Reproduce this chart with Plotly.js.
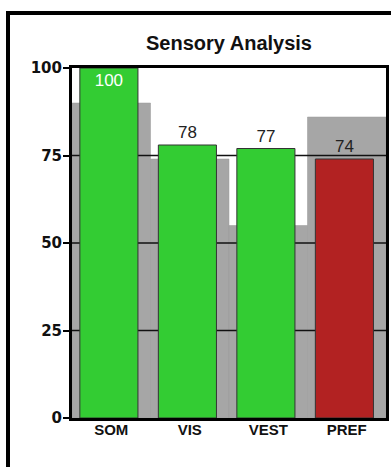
<!DOCTYPE html>
<html>
<head>
<meta charset="utf-8">
<script src="https://cdn.plot.ly/plotly-3.0.1.min.js"></script>
<style>
  html, body { margin: 0; padding: 0; background: #fff; }
  #wrap { position: relative; width: 391px; height: 467px; overflow: hidden; }
  #chart { position: absolute; left: 0; top: 0; width: 391px; height: 467px; }
  #frame {
    position: absolute; left: 6px; top: 11px; width: 400px; height: 470px;
    border-left: 4px solid #000; border-top: 4px solid #000;
    pointer-events: none; box-sizing: border-box;
  }
</style>
</head>
<body>
<div id="wrap">
  <div id="chart"></div>
  <div id="frame"></div>
</div>
<script>
// Sensory profile scores
const categories = ["SOM", "VIS", "VEST", "PREF"];
const scores = [100, 78, 77, 74];
const barColors = ["#33cc33", "#33cc33", "#33cc33", "#b22222"];
// Reference band drawn behind each score
const referenceScores = [90, 74, 55, 86];
// Y axis ticks
const yTicks = [0, 25, 50, 75, 100];
const gridLevels = [25, 50, 75];

const xIdx = categories.map((_, i) => i);
const xMin = -0.5, xMax = categories.length - 0.5;

// grid lines as a trace so they sit above the reference band but under the score bars
const gridX = [], gridY = [];
gridLevels.forEach(v => { gridX.push(xMin, xMax, null); gridY.push(v, v, null); });

const traces = [
  {
    type: "bar", x: xIdx, y: referenceScores, width: 1,
    marker: { color: "#a6a6a6", line: { color: "#999", width: 0.5 } },
    xaxis: "x", yaxis: "y", hoverinfo: "skip"
  },
  {
    type: "scatter", mode: "lines", x: gridX, y: gridY,
    line: { color: "#111", width: 1.5 },
    xaxis: "x", yaxis: "y", hoverinfo: "skip"
  },
  {
    type: "bar", x: xIdx, y: scores, width: 0.74, offset: -0.4,
    marker: { color: barColors, line: { color: "#333", width: 1 } },
    text: scores.map(String),
    textposition: scores.map(v => v >= 100 ? "inside" : "outside"),
    insidetextanchor: "end",
    insidetextfont: { family: "Liberation Sans, Arial, sans-serif", size: 17, color: "#fff" },
    outsidetextfont: { family: "Liberation Sans, Arial, sans-serif", size: 17, color: "#222" },
    constraintext: "none",
    cliponaxis: false,
    xaxis: "x2", yaxis: "y2", hoverinfo: "skip"
  }
];

const layout = {
  width: 391, height: 467,
  margin: { l: 72, r: 5, t: 68, b: 49 },
  paper_bgcolor: "#fff", plot_bgcolor: "#fff",
  showlegend: false,
  barmode: "overlay",
  title: {
    text: "Sensory Analysis",
    font: { family: "Liberation Sans, Arial, sans-serif", size: 20, color: "#111", weight: "bold" },
    x: 0.5, xref: "paper", xanchor: "center",
    y: 1 - 43 / 467, yref: "container", yanchor: "middle"
  },
  xaxis: {
    range: [xMin, xMax], tickvals: xIdx, ticktext: categories,
    showgrid: false, zeroline: false,
    showline: true, linecolor: "#000", linewidth: 3, mirror: true,
    ticks: "", tickfont: { family: "Liberation Sans, Arial, sans-serif", size: 15, color: "#111", weight: "bold" },
    ticklabelstandoff: -4,
    fixedrange: true
  },
  yaxis: {
    range: [0, 100], tickvals: yTicks,
    showgrid: false, zeroline: false,
    showline: true, linecolor: "#000", linewidth: 3, mirror: true,
    layer: "below traces",
    ticks: "outside", ticklen: 6, tickwidth: 2, tickcolor: "#000",
    tickfont: { family: "DejaVu Sans, sans-serif", size: 15, color: "#111", weight: "bold" },
    ticklabelstandoff: -2,
    fixedrange: true
  },
  xaxis2: { overlaying: "x", range: [xMin, xMax], visible: false, fixedrange: true },
  yaxis2: { overlaying: "y", range: [0, 100], visible: false, fixedrange: true }
};

Plotly.newPlot("chart", traces, layout, { staticPlot: true, displayModeBar: false });
</script>
</body>
</html>
